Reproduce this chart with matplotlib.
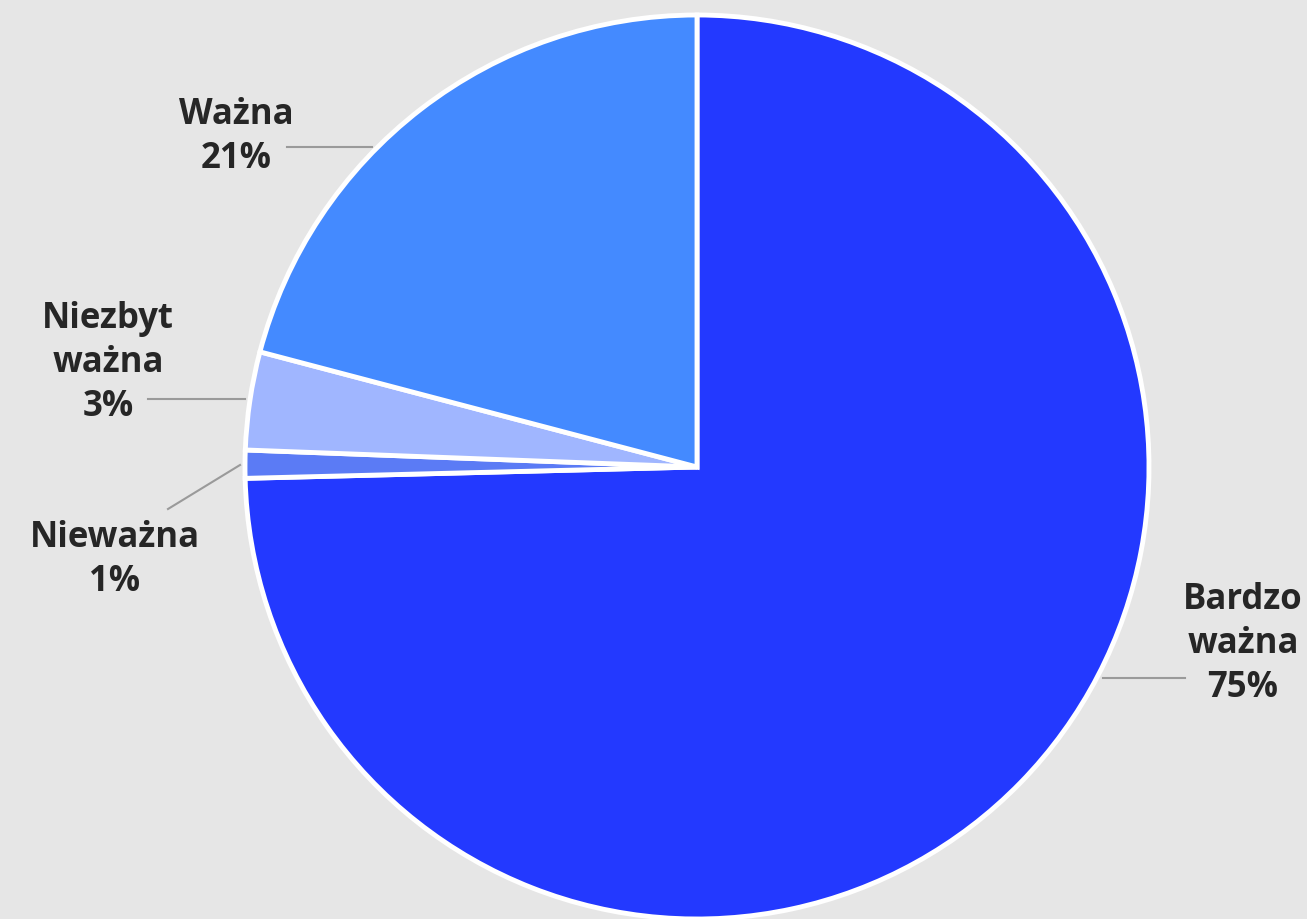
import matplotlib
matplotlib.use("Agg")
import matplotlib.pyplot as plt

# ---------- dane ----------
labels = ["Bardzo\nważna", "Nieważna", "Niezbyt\nważna", "Ważna"]
shares = [74.6, 1.0, 3.5, 20.9]
pct_text = ["75%", "1%", "3%", "21%"]
colors = ["#2339FF", "#5B7BF5", "#A0B6FF", "#448AFF"]

W, H = 1307, 919
fig = plt.figure(figsize=(W / 100, H / 100), dpi=100)
fig.patch.set_facecolor("#E6E6E6")
ax = fig.add_axes([0, 0, 1, 1])

cx, cy, r = 697, H - 467, 452
ax.pie(shares, colors=colors, startangle=90, counterclock=False,
       center=(cx, cy), radius=r, frame=True,
       wedgeprops=dict(edgecolor="white", linewidth=3.5))
ax.set_xlim(0, W); ax.set_ylim(0, H)
ax.set_aspect("equal")
ax.axis("off")

# etykiety: (tekst xy, linia od, linia do) w pikselach od góry
lab_pos = [
    ((1243, 644), (1103, 678), (1185, 678)),
    ((115, 560), (240, 465), (168, 509)),
    ((108, 363), (245, 399), (148, 399)),
    ((236, 137), (372, 147), (287, 147)),
]
for lab, pct, (txy, l0, l1) in zip(labels, pct_text, lab_pos):
    ax.plot([l0[0], l1[0]], [H - l0[1], H - l1[1]], color="#9A9A9A", lw=1.5)
    ax.text(txy[0], H - txy[1], f"{lab}\n{pct}", ha="center", va="center",
            fontsize=25, fontweight="bold", family="Open Sans",
            color="#262626", linespacing=1.3)

fig.savefig("out.png", dpi=100, facecolor=fig.get_facecolor())
